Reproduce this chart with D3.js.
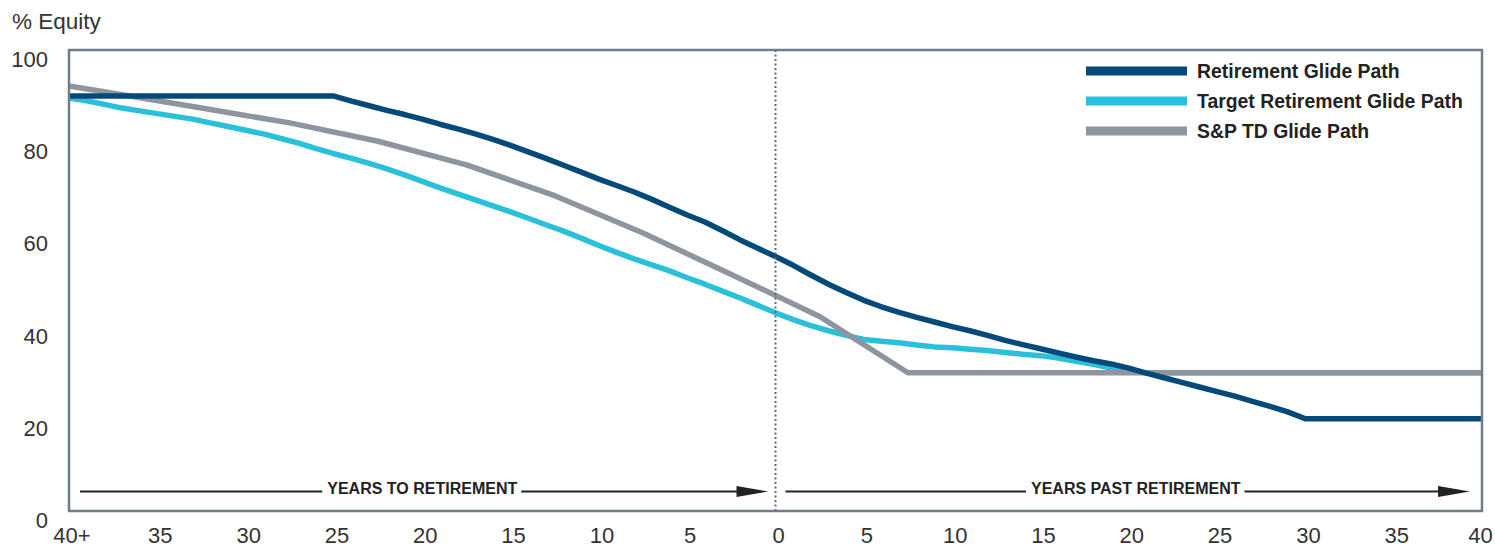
<!DOCTYPE html>
<html>
<head>
<meta charset="utf-8">
<script src="https://cdn.jsdelivr.net/npm/d3@7"></script>
<style>
  html, body { margin: 0; padding: 0; background: #ffffff; }
  svg { display: block; }
  text { font-family: "Liberation Sans", Arial, Helvetica, sans-serif; }
</style>
</head>
<body>
<svg id="chart" width="1495" height="553"></svg>
<script>
// ---------- data ----------
const xTickValues = [-40, -35, -30, -25, -20, -15, -10, -5, 0, 5, 10, 15, 20, 25, 30, 35, 40];
const xTickLabels = ["40+", "35", "30", "25", "20", "15", "10", "5", "0", "5", "10", "15", "20", "25", "30", "35", "40"];
const yTickValues = [0, 20, 40, 60, 80, 100];

// years relative to retirement (negative = years to retirement)
const retirementYears = [-40, -25, -24, -23, -22, -21, -20, -19, -18, -17, -16, -15, -14, -13, -12, -11,
  -10, -9, -8, -7, -6, -5, -4, -3, -2, -1, 0, 1, 2, 3, 4, 5, 6, 7, 8, 9, 10, 11, 12, 13, 14, 15,
  16, 17, 18, 19, 20, 21, 22, 23, 24, 25, 26, 27, 28, 29, 30, 40];
const retirementValues = [90, 90, 88.9, 87.9, 86.9, 86, 85, 83.9, 82.9, 81.8, 80.6, 79.3, 77.9, 76.5, 75, 73.5,
  72, 70.6, 69.2, 67.6, 65.9, 64.2, 62.7, 60.8, 58.8, 57, 55.2, 53.3, 51.2, 49.2, 47.4, 45.7, 44.3, 43.1, 42, 41, 40, 39.1, 38.1, 37, 36.1, 35.2,
  34.3, 33.4, 32.6, 31.9, 31, 29.9, 28.9, 27.9, 26.9, 25.9, 24.9, 23.8, 22.7, 21.5, 20, 20];

const targetYears = [-40, -39, -38, -37, -36, -35, -34, -33, -32, -31, -30, -29, -28, -27, -26, -25, -24, -23, -22, -21,
  -20, -19, -18, -17, -16, -15, -14, -13, -12, -11, -10, -9, -8, -7, -6, -5, -4, -3, -2, -1,
  0, 1, 2, 3, 4, 5, 6, 7, 8, 9, 10, 11, 12, 13, 14, 15, 16, 17, 18, 19, 20, 21, 40];
const targetValues = [89.6, 89.0, 88.2, 87.4, 86.8, 86.2, 85.6, 85.0, 84.2, 83.4, 82.6, 81.8, 80.8, 79.8, 78.6, 77.5, 76.5, 75.4, 74.2, 72.9,
  71.5, 70.1, 68.8, 67.5, 66.2, 64.9, 63.5, 62.1, 60.7, 59.2, 57.6, 56.1, 54.7, 53.4, 52.1, 50.6, 49.2, 47.7, 46.2, 44.6,
  43.0, 41.5, 40.2, 39.1, 38.1, 37.2, 36.8, 36.5, 36.0, 35.6, 35.4, 35.1, 34.8, 34.4, 34.0, 33.7, 33.2, 32.5, 31.8, 31.0, 30.2, 30, 30];

const spYears = [-40, -37.5, -32.5, -27.5, -22.5, -17.5, -12.5, -7.5, -2.5, 2.5, 7.5, 40];
const spValues = [92.2, 90.6, 87.4, 84.2, 80.2, 75.1, 68.4, 60.3, 51.3, 42.2, 30, 30];

const seriesNames = ["Retirement Glide Path", "Target Retirement Glide Path", "S&P TD Glide Path"];
const seriesColors = ["#03497a", "#2bc0da", "#8e959f"];
const arrowLabels = ["YEARS TO RETIREMENT", "YEARS PAST RETIREMENT"];

// ---------- layout ----------
const svg = d3.select("#chart");
const plot = { left: 69, top: 50, right: 1482, bottom: 511 };

const x = d3.scaleLinear().domain([-40, 40]).range([plot.left, plot.right]);
const y = d3.scaleLinear().domain([0, 100]).range([plot.bottom, plot.top]);

// y axis title
svg.append("text")
  .attr("x", 12).attr("y", 29)
  .attr("font-size", 22.5).attr("fill", "#333")
  .text("% Equity");

// y axis (labels only)
const yAxis = svg.append("g")
  .attr("transform", `translate(${plot.left - 21},0)`)
  .call(d3.axisLeft(y).tickValues(yTickValues).tickSize(0).tickPadding(0));
yAxis.select(".domain").remove();
yAxis.selectAll("text")
  .attr("font-size", 22).attr("fill", "#333")
  .attr("font-family", "Liberation Sans, Arial, sans-serif")
  .attr("dy", null).attr("y", 16.5)
  .style("dominant-baseline", "auto");

// x axis (labels only)
const xAxis = svg.append("g")
  .attr("transform", `translate(0,${plot.bottom})`)
  .call(d3.axisBottom(x).tickValues(xTickValues).tickSize(0).tickPadding(0)
    .tickFormat((d, i) => xTickLabels[i]));
xAxis.select(".domain").remove();
xAxis.selectAll("text")
  .attr("font-size", 22).attr("fill", "#333")
  .attr("font-family", "Liberation Sans, Arial, sans-serif")
  .attr("dy", null).attr("y", 31.5)
  .attr("dx", (d, i) => i === xTickValues.length - 1 ? -2 : 2.5)
  .style("dominant-baseline", "auto");

// lines
const lineGen = d3.line().x(d => x(d[0])).y(d => y(d[1]));
const seriesData = [
  d3.zip(retirementYears, retirementValues),
  d3.zip(targetYears, targetValues),
  d3.zip(spYears, spValues)
];
const drawOrder = [1, 2, 0];
const linesG = svg.append("g");
drawOrder.forEach(i => {
  linesG.append("path")
    .datum(seriesData[i])
    .attr("d", lineGen)
    .attr("fill", "none")
    .attr("stroke", seriesColors[i])
    .attr("stroke-width", 5.5)
    .attr("stroke-linejoin", "round");
});

// retirement dotted line
svg.append("line")
  .attr("x1", x(0)).attr("x2", x(0))
  .attr("y1", plot.top).attr("y2", plot.bottom)
  .attr("stroke", "#5d6880").attr("stroke-width", 2)
  .attr("stroke-dasharray", "2,2.5");

// frame
svg.append("rect")
  .attr("x", plot.left).attr("y", plot.top)
  .attr("width", plot.right - plot.left).attr("height", plot.bottom - plot.top)
  .attr("fill", "none").attr("stroke", "#717c8a").attr("stroke-width", 2.5);

// arrows
const arrowY = 491.5;
function drawArrow(x0, tip, label, center) {
  const g = svg.append("g");
  const t = g.append("text")
    .attr("x", center).attr("y", arrowY + 2)
    .attr("text-anchor", "middle")
    .attr("font-size", 16).attr("font-weight", "bold").attr("fill", "#222")
    .text(label);
  const w = t.node().getComputedTextLength();
  const headLen = 32, headHalf = 5.5;
  g.append("line").attr("x1", x0).attr("x2", center - w / 2 - 5)
    .attr("y1", arrowY).attr("y2", arrowY).attr("stroke", "#222").attr("stroke-width", 2);
  g.append("line").attr("x1", center + w / 2 + 4).attr("x2", tip - headLen + 2)
    .attr("y1", arrowY).attr("y2", arrowY).attr("stroke", "#222").attr("stroke-width", 2);
  g.append("path")
    .attr("d", `M${tip - headLen},${arrowY - headHalf}L${tip},${arrowY}L${tip - headLen},${arrowY + headHalf}Z`)
    .attr("fill", "#222");
}
drawArrow(x(-40) + 11, x(0) - 7, arrowLabels[0], x(-20));
drawArrow(x(0) + 10, x(40) - 12, arrowLabels[1], x(20) + 7);

// legend
const legend = svg.append("g");
seriesNames.forEach((name, i) => {
  const ly = 71 + i * 30;
  legend.append("line")
    .attr("x1", 1086).attr("x2", 1187)
    .attr("y1", ly).attr("y2", ly)
    .attr("stroke", seriesColors[i]).attr("stroke-width", 9);
  legend.append("text")
    .attr("x", 1197).attr("y", ly + 7)
    .attr("font-size", 19.4).attr("font-weight", "bold").attr("fill", "#222")
    .text(name);
});
</script>
</body>
</html>
